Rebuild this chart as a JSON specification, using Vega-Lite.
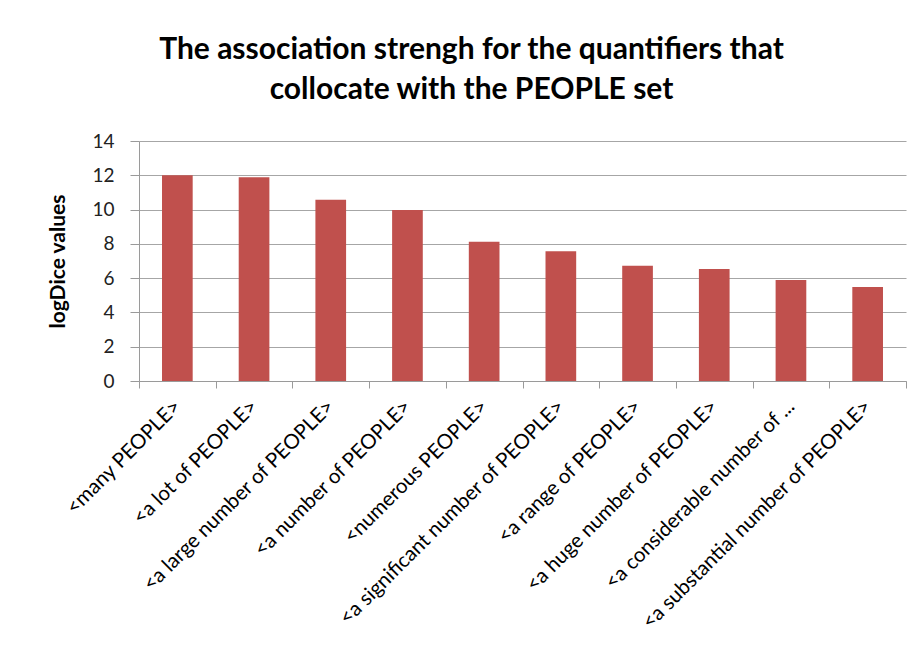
{
  "$schema": "https://vega.github.io/schema/vega-lite/v6.json",
  "autosize": "none",
  "width": 767,
  "height": 240,
  "padding": {"left": 139, "top": 141, "right": 17, "bottom": 285},
  "background": "white",
  "title": {
    "text": ["The association strengh for the quantifiers that", "collocate with the PEOPLE set"],
    "font": "Lato",
    "fontSize": 30,
    "fontWeight": "bold",
    "color": "#000000",
    "anchor": "middle",
    "frame": "group",
    "dx": -51,
    "offset": 27,
    "lineHeight": 40
  },
  "data": {
    "values": [
      {"quantifier": "<many PEOPLE>", "value": 12.0},
      {"quantifier": "<a lot of PEOPLE>", "value": 11.88},
      {"quantifier": "<a large number of PEOPLE>", "value": 10.58},
      {"quantifier": "<a number of PEOPLE>", "value": 9.97},
      {"quantifier": "<numerous PEOPLE>", "value": 8.13},
      {"quantifier": "<a significant number of PEOPLE>", "value": 7.57},
      {"quantifier": "<a range of PEOPLE>", "value": 6.73},
      {"quantifier": "<a huge number of PEOPLE>", "value": 6.53},
      {"quantifier": "<a considerable number of ...", "value": 5.89},
      {"quantifier": "<a substantial number of PEOPLE>", "value": 5.48}
    ]
  },
  "mark": {"type": "bar", "color": "#C0504D", "width": {"band": 0.4}},
  "encoding": {
    "x": {
      "field": "quantifier",
      "type": "nominal",
      "sort": null,
      "scale": {"paddingInner": 0, "paddingOuter": 0},
      "axis": {
        "title": null,
        "labelAngle": -45,
        "labelAlign": "right",
        "labelBaseline": "middle",
        "labelFont": "Lato",
        "labelFontSize": 20.5,
        "labelColor": "#000000",
        "labelPadding": 15,
        "labelLimit": 400,
        "tickBand": "extent",
        "tickSize": 7,
        "tickColor": "#9A9A9A",
        "domainColor": "#9A9A9A",
        "grid": false
      }
    },
    "y": {
      "field": "value",
      "type": "quantitative",
      "scale": {"domain": [0, 14], "nice": false},
      "axis": {
        "title": "logDice values",
        "titleFont": "Lato",
        "titleFontSize": 21,
        "titleFontWeight": "bold",
        "titleColor": "#000000",
        "titlePadding": 23,
        "values": [0, 2, 4, 6, 8, 10, 12, 14],
        "labelFont": "Lato",
        "labelFontSize": 19,
        "labelColor": "#222222",
        "labelPadding": 16,
        "tickSize": 9,
        "tickColor": "#9A9A9A",
        "domainColor": "#9A9A9A",
        "gridColor": "#A6A6A6",
        "gridWidth": 1.2
      }
    }
  },
  "config": {
    "view": {"stroke": null}
  }
}
